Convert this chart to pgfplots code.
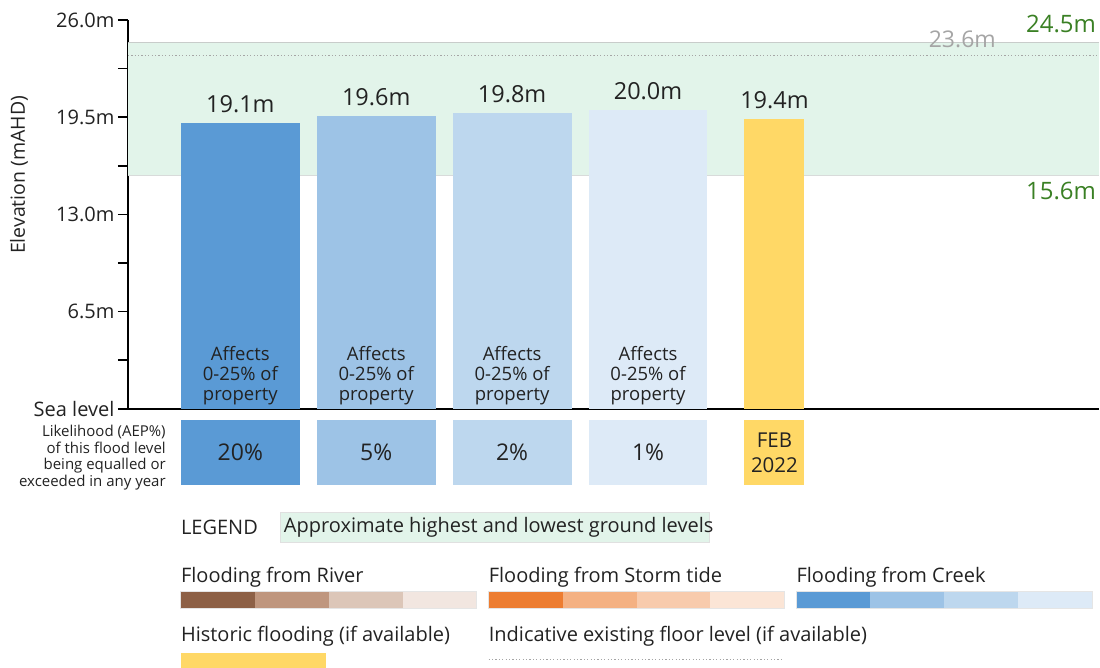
\documentclass[border=0pt]{standalone}
\usepackage{pgfplots}
\pgfplotsset{compat=1.18}
\usepackage{fontspec}
\setmainfont{Open Sans}

\definecolor{creekA}{RGB}{90,154,213}
\definecolor{creekB}{RGB}{157,195,230}
\definecolor{creekC}{RGB}{189,215,238}
\definecolor{creekD}{RGB}{221,234,247}
\definecolor{histY}{RGB}{255,216,102}
\definecolor{band}{RGB}{226,244,234}
\definecolor{bandline}{RGB}{200,204,202}
\definecolor{lvlgreen}{RGB}{58,128,36}
\definecolor{lvlgray}{RGB}{165,165,165}
\definecolor{riverA}{RGB}{141,96,70}
\definecolor{riverB}{RGB}{191,150,126}
\definecolor{riverC}{RGB}{220,198,184}
\definecolor{riverD}{RGB}{242,230,224}
\definecolor{stormA}{RGB}{237,125,49}
\definecolor{stormB}{RGB}{244,177,131}
\definecolor{stormC}{RGB}{248,203,173}
\definecolor{stormD}{RGB}{251,229,214}
\definecolor{txt}{RGB}{34,34,34}

\newcommand{\fs}[2]{\fontsize{#1}{#2}\selectfont}

\pgfplotsset{
  level bar/.style={ybar, bar shift=0pt, draw=none,
    nodes near coords={\pgfmathprintnumber[fixed,fixed zerofill,precision=1]{\pgfplotspointmeta}m}},
}

\begin{document}
\begin{tikzpicture}
\begin{scope}[x=1pt,y=-1pt]
  \useasboundingbox (0,0) rectangle (1100,668);
\end{scope}

\begin{axis}[
  at={(128pt,-409pt)}, anchor=south west,
  scale only axis, width=972pt, height=389pt,
  xmin=128, xmax=1100, ymin=0, ymax=26,
  clip=false,
  axis lines=left,
  axis line style={-, line width=1.6pt, black},
  xtick=\empty,
  ytick={0,6.5,13,19.5,26},
  yticklabels={Sea level,6.5m,13.0m,19.5m,26.0m},
  minor ytick={3.25,9.75,16.25,22.75},
  tick align=outside,
  major tick length=10pt, minor tick length=10pt,
  tick style={black, line width=1.6pt},
  yticklabel style={font=\fs{20}{24}, text=txt},
  /pgf/number format/assume math mode=true,
  every node near coord/.style={font=\fs{23.5}{27}, text=txt, anchor=south, inner sep=0pt, yshift=10pt},
]
  % approximate highest and lowest ground levels
  \addplot[fill=band, draw=none] coordinates {(128,15.6) (1100,15.6) (1100,24.5) (128,24.5)} -- cycle;
  \addplot[bandline, line width=1pt] coordinates {(128,24.5) (1100,24.5)};
  \addplot[bandline!70, line width=0.8pt] coordinates {(128,15.6) (1100,15.6)};
  % indicative existing floor level
  \addplot[lvlgray, line width=1.2pt, dash pattern=on 1.2pt off 2.2pt] coordinates {(128,23.6) (1100,23.6)};

  \node[anchor=south east, font=\fs{24}{28}, text=lvlgreen, inner sep=0pt, yshift=9pt] at (axis cs:1097,24.5) {24.5m};
  \node[anchor=north east, font=\fs{24}{28}, text=lvlgreen, inner sep=0pt, yshift=-6pt] at (axis cs:1097,15.6) {15.6m};
  \node[anchor=south, font=\fs{23}{27}, text=lvlgray, inner sep=0pt, yshift=8pt] at (axis cs:963,23.6) {23.6m};

  % flood levels
  \addplot[level bar, bar width=119, fill=creekA] coordinates {(240.5,19.1)};
  \addplot[level bar, bar width=119, fill=creekB] coordinates {(376.5,19.6)};
  \addplot[level bar, bar width=119, fill=creekC] coordinates {(512.5,19.8)};
  \addplot[level bar, bar width=119, fill=creekD] coordinates {(648.5,20.0)};
  \addplot[level bar, bar width=60, fill=histY] coordinates {(775,19.4)};

  \pgfplotsinvokeforeach{240.5,376.5,512.5,648.5}{
    \node[anchor=south, align=center, font=\fs{18.5}{20}, text=txt, inner sep=0pt, yshift=4pt]
      at (axis cs:#1,0) {Affects\\0-25\% of\\property};
  }
\end{axis}

\begin{scope}[x=1pt,y=-1pt]
  % axis title
  \node[rotate=90, font=\fs{19.5}{23}, text=txt] at (19,175) {Elevation (mAHD)};

  % likelihood row
  \node[anchor=east, align=right, font=\fs{15}{16.5}, text=txt, inner sep=0pt] at (166,458)
    {Likelihood (AEP\%)\\of this flood level\\being equalled or\\exceeded in any year};
  \fill[creekA] (181,420) rectangle (300,485);
  \fill[creekB] (317,420) rectangle (436,485);
  \fill[creekC] (453,420) rectangle (572,485);
  \fill[creekD] (589,420) rectangle (708,485);
  \fill[histY]  (745,420) rectangle (805,485);
  \foreach \cx/\t in {240.5/20\%,376.5/5\%,512.5/2\%,648.5/1\%}
    \node[font=\fs{23}{27}, text=txt] at (\cx,453) {\t};
  \node[align=center, font=\fs{20.5}{25}, text=txt] at (775,453) {FEB\\2022};

  % legend
  \node[anchor=west, inner sep=0pt, font=\fs{20}{24}, text=txt] at (181,528) {LEGEND};
  \draw[fill=band, draw=black!12] (280,513) rectangle (710,543);
  \node[anchor=west, inner sep=0pt, font=\fs{20}{24}, text=txt] at (284,528) {Approximate highest and lowest ground levels};

  \node[anchor=west, inner sep=0pt, font=\fs{20}{24}, text=txt] at (181,578) {Flooding from River};
  \node[anchor=west, inner sep=0pt, font=\fs{20}{24}, text=txt] at (489,578) {Flooding from Storm tide};
  \node[anchor=west, inner sep=0pt, font=\fs{20}{24}, text=txt] at (797,578) {Flooding from Creek};
  \foreach \x/\ca/\cb/\cc/\cd in {181/riverA/riverB/riverC/riverD, 489/stormA/stormB/stormC/stormD, 797/creekA/creekB/creekC/creekD} {
    \fill[\ca] (\x,592) rectangle ++(74,17);
    \fill[\cb] (\x+74,592) rectangle ++(74,17);
    \fill[\cc] (\x+148,592) rectangle ++(74,17);
    \fill[\cd] (\x+222,592) rectangle ++(74,17);
    \draw[black!10, line width=0.8pt] (\x,592) rectangle ++(296,17);
  }

  \node[anchor=west, inner sep=0pt, font=\fs{20}{24}, text=txt] at (181,637) {Historic flooding (if available)};
  \fill[histY] (181,653) rectangle (326,668);
  \node[anchor=west, inner sep=0pt, font=\fs{20}{24}, text=txt] at (489,637) {Indicative existing floor level (if available)};
  \draw[lvlgray, line width=1.2pt, dash pattern=on 1.2pt off 2.2pt] (489,660) -- (784,660);
\end{scope}
\end{tikzpicture}
\end{document}
